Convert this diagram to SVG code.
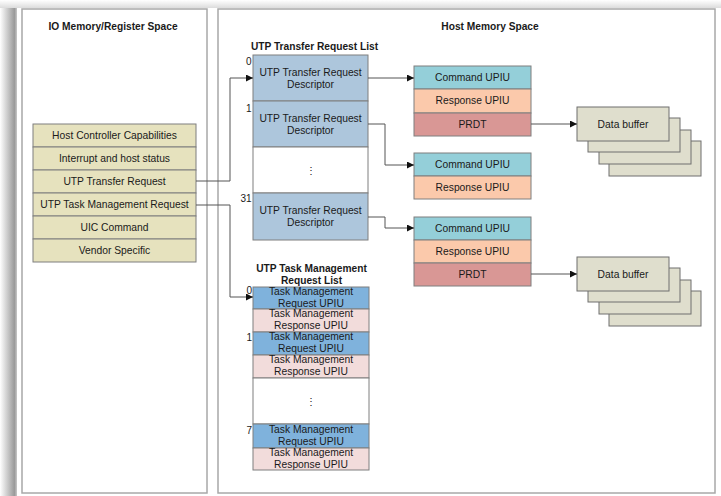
<svg xmlns="http://www.w3.org/2000/svg" width="721" height="496" viewBox="0 0 721 496">
<defs>
<linearGradient id="shL" x1="0" y1="0" x2="1" y2="0">
<stop offset="0" stop-color="#ffffff"/>
<stop offset="0.85" stop-color="#9a9a9a"/>
<stop offset="1" stop-color="#c8c8c8"/>
</linearGradient>
<linearGradient id="shT" x1="0" y1="0" x2="0" y2="1">
<stop offset="0" stop-color="#ffffff"/>
<stop offset="1" stop-color="#dcdcdc"/>
</linearGradient>
<marker id="ah" viewBox="0 0 10 10" refX="10" refY="5" markerWidth="7" markerHeight="7" markerUnits="userSpaceOnUse" orient="auto">
<path d="M0,0 L10,5 L0,10 z" fill="#111"/>
</marker>
<style>
text{font-family:"Liberation Sans",Arial,sans-serif;fill:#1a1a1a}
.t{font-size:10.3px;text-anchor:middle}
.b{font-size:10.2px;font-weight:bold;text-anchor:middle}
.i{font-size:10px;text-anchor:end}
.panel{fill:#fff;stroke:#a8a8a8;stroke-width:1.5}
.reg{fill:#e6e2be;stroke:#7f7f7f;stroke-width:1}
.desc{fill:#adc6dc;stroke:#7f7f7f;stroke-width:1}
.empty{fill:#fff;stroke:#7f7f7f;stroke-width:1}
.cmd{fill:#94cfd9;stroke:#7f7f7f;stroke-width:1}
.rsp{fill:#fbc9ab;stroke:#7f7f7f;stroke-width:1}
.prdt{fill:#d99795;stroke:#7f7f7f;stroke-width:1}
.buf{fill:#dfdecd;stroke:#6f6f6f;stroke-width:1}
.treq{fill:#7fb2dc;stroke:#7f7f7f;stroke-width:1}
.trsp{fill:#f2dcdb;stroke:#7f7f7f;stroke-width:1}
.c{fill:none;stroke:#555;stroke-width:1}
.ca{fill:none;stroke:#555;stroke-width:1;marker-end:url(#ah)}
</style>
</defs>
<rect x="0" y="0" width="721" height="496" fill="#fff"/>
<rect x="0" y="0" width="721" height="8" fill="url(#shT)"/>
<rect x="0" y="8" width="17" height="488" fill="url(#shL)"/>

<g id="io-space">
<rect class="panel" x="22" y="9" width="185" height="484"/>
<text class="b" x="113" y="29.5">IO Memory/Register Space</text>
</g>
<g id="host-space">
<rect class="panel" x="218" y="9" width="497" height="484"/>
<text class="b" x="490" y="29.5">Host Memory Space</text>
</g>

<g id="registers">
<rect class="reg" x="33" y="124" width="163" height="23"/>
<text class="t" x="114.5" y="138.5">Host Controller Capabilities</text>
<rect class="reg" x="33" y="147" width="163" height="23"/>
<text class="t" x="114.5" y="161.5">Interrupt and host status</text>
<rect class="reg" x="33" y="170" width="163" height="23"/>
<text class="t" x="114.5" y="184.5">UTP Transfer Request</text>
<rect class="reg" x="33" y="193" width="163" height="23"/>
<text class="t" x="114.5" y="207.5">UTP Task Management Request</text>
<rect class="reg" x="33" y="216" width="163" height="23"/>
<text class="t" x="114.5" y="230.5">UIC Command</text>
<rect class="reg" x="33" y="239" width="163" height="23"/>
<text class="t" x="114.5" y="253.5">Vendor Specific</text>
</g>

<g id="transfer-list">
<text class="b" x="314.5" y="49.5">UTP Transfer Request List</text>
<rect class="desc" x="253" y="55" width="115" height="46"/>
<text class="t" x="310.5" y="75.5">UTP Transfer Request</text>
<text class="t" x="310.5" y="87.5">Descriptor</text>
<rect class="desc" x="253" y="101" width="115" height="46"/>
<text class="t" x="310.5" y="121.5">UTP Transfer Request</text>
<text class="t" x="310.5" y="133.5">Descriptor</text>
<rect class="empty" x="253" y="147" width="115" height="46"/>
<text class="t" x="310.5" y="174" fill="#555">⋮</text>
<rect class="desc" x="253" y="193" width="115" height="47"/>
<text class="t" x="310.5" y="213.5">UTP Transfer Request</text>
<text class="t" x="310.5" y="225.5">Descriptor</text>
<text class="i" x="251.5" y="65">0</text>
<text class="i" x="251.5" y="112">1</text>
<text class="i" x="251.5" y="201.5">31</text>
</g>

<g id="upiu-0">
<rect class="cmd" x="414" y="66" width="117" height="23"/>
<text class="t" x="472.5" y="80.5">Command UPIU</text>
<rect class="rsp" x="414" y="89" width="117" height="24"/>
<text class="t" x="472.5" y="104">Response UPIU</text>
<rect class="prdt" x="414" y="113" width="117" height="23"/>
<text class="t" x="472.5" y="127.5">PRDT</text>
</g>
<g id="upiu-1">
<rect class="cmd" x="414" y="153" width="117" height="23"/>
<text class="t" x="472.5" y="167.5">Command UPIU</text>
<rect class="rsp" x="414" y="176" width="117" height="23"/>
<text class="t" x="472.5" y="190.5">Response UPIU</text>
</g>
<g id="upiu-31">
<rect class="cmd" x="414" y="217" width="117" height="23"/>
<text class="t" x="472.5" y="231.5">Command UPIU</text>
<rect class="rsp" x="414" y="240" width="117" height="23"/>
<text class="t" x="472.5" y="254.5">Response UPIU</text>
<rect class="prdt" x="414" y="263" width="117" height="23"/>
<text class="t" x="472.5" y="277.5">PRDT</text>
</g>

<g id="data-buffer-0">
<rect class="buf" x="609" y="141" width="92" height="35"/>
<rect class="buf" x="599" y="130" width="92" height="34"/>
<rect class="buf" x="588" y="118" width="92" height="34"/>
<rect class="buf" x="577" y="107" width="92" height="34"/>
<text class="t" x="623" y="127.5">Data buffer</text>
</g>
<g id="data-buffer-1">
<rect class="buf" x="609" y="291" width="92" height="35"/>
<rect class="buf" x="599" y="280" width="92" height="34"/>
<rect class="buf" x="588" y="268" width="92" height="34"/>
<rect class="buf" x="577" y="257" width="92" height="34"/>
<text class="t" x="623" y="277.5">Data buffer</text>
</g>

<g id="task-list">
<text class="b" x="311.5" y="271.5">UTP Task Management</text>
<text class="b" x="311.5" y="284">Request List</text>
<rect class="treq" x="253" y="287" width="116" height="22"/>
<text class="t" x="311" y="294.5">Task Management</text>
<text class="t" x="311" y="306.5">Request UPIU</text>
<rect class="trsp" x="253" y="309" width="116" height="23"/>
<text class="t" x="311" y="317">Task Management</text>
<text class="t" x="311" y="329">Response UPIU</text>
<rect class="treq" x="253" y="332" width="116" height="23"/>
<text class="t" x="311" y="340">Task Management</text>
<text class="t" x="311" y="352">Request UPIU</text>
<rect class="trsp" x="253" y="355" width="116" height="23"/>
<text class="t" x="311" y="363">Task Management</text>
<text class="t" x="311" y="375">Response UPIU</text>
<rect class="empty" x="253" y="378" width="116" height="46"/>
<text class="t" x="311" y="405" fill="#555">⋮</text>
<rect class="treq" x="253" y="424" width="116" height="24"/>
<text class="t" x="311" y="432.5">Task Management</text>
<text class="t" x="311" y="444.5">Request UPIU</text>
<rect class="trsp" x="253" y="448" width="116" height="22"/>
<text class="t" x="311" y="455.5">Task Management</text>
<text class="t" x="311" y="467.5">Response UPIU</text>
<text class="i" x="252" y="294">0</text>
<text class="i" x="252" y="340.5">1</text>
<text class="i" x="252" y="434">7</text>
</g>

<g id="connectors">
<polyline class="ca" points="196,181 230,181 230,78 253,78"/>
<polyline class="ca" points="196,205 230,205 230,297 253,297"/>
<polyline class="ca" points="368,78 414,78"/>
<polyline class="ca" points="368,124 385,124 385,165 414,165"/>
<polyline class="ca" points="368,217 385,217 385,228 414,228"/>
<polyline class="ca" points="531,124 577,124"/>
<polyline class="ca" points="531,274 577,274"/>
</g>
</svg>
